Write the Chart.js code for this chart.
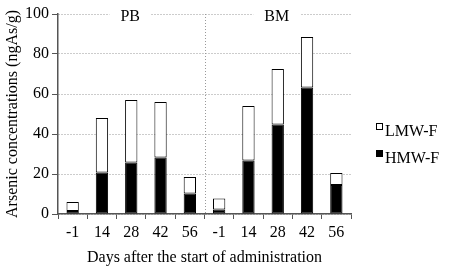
<!DOCTYPE html>
<html>
<head>
<meta charset="utf-8">
<script src="https://cdn.jsdelivr.net/npm/chart.js@4.4.0/dist/chart.umd.min.js"></script>
<style>
  html, body { margin: 0; padding: 0; background: #fff; }
  #wrap { width: 449px; height: 268px; position: relative; }
</style>
</head>
<body>
<div id="wrap"><canvas id="arsenicChart"></canvas></div>
<script>
// Datos
const days = ['-1', '14', '28', '42', '56', '-1', '14', '28', '42', '56'];
const groups = ['PB', 'BM'];
const hmwF = [1.5, 20.7, 25.7, 28.2, 10.2, 2.2, 26.7, 44.7, 63.2, 14.5];
const lmwF = [4.5, 27.3, 31.3, 27.8, 8.3, 5.6, 27.3, 27.8, 25.3, 6.0];
const yTicks = [0, 20, 40, 60, 80, 100];

const serif = "'Liberation Serif', 'DejaVu Serif', serif";
const axisGrey = '#555';

// Etiquetas de grupo, línea divisoria y leyenda
const extras = {
    id: 'extras',
    afterDatasetsDraw(chart) {
        const ctx = chart.ctx;
        const x = chart.scales.x;
        const area = chart.chartArea;

        // línea punteada entre grupos
        const xm = (x.getPixelForValue(4) + x.getPixelForValue(5)) / 2;
        ctx.save();
        ctx.strokeStyle = '#999';
        ctx.lineWidth = 1;
        ctx.setLineDash([1, 2]);
        ctx.beginPath();
        ctx.moveTo(Math.round(xm) + 0.5, area.top);
        ctx.lineTo(Math.round(xm) + 0.5, area.bottom);
        ctx.stroke();
        ctx.restore();

        // PB / BM
        ctx.save();
        ctx.font = '16px ' + serif;
        ctx.textAlign = 'center';
        ctx.textBaseline = 'middle';
        groups.forEach((g, i) => {
            const cx = x.getPixelForValue(i * 5 + 2) - 1;
            const w = ctx.measureText(g).width + 22;
            ctx.fillStyle = '#fff';
            ctx.fillRect(cx - w / 2, area.top - 6, w, 12);
            ctx.fillStyle = '#000';
            ctx.fillText(g, cx, area.top + 3);
        });
        ctx.restore();

        // leyenda
        ctx.save();
        ctx.font = '16px ' + serif;
        ctx.textBaseline = 'alphabetic';
        const items = [chart.data.datasets[1], chart.data.datasets[0]];
        items.forEach((ds, i) => {
            const by = 123 + i * 27;
            ctx.fillStyle = ds.backgroundColor;
            ctx.fillRect(376, by, 7, 7);
            ctx.strokeStyle = '#000';
            ctx.lineWidth = 1;
            ctx.strokeRect(376.5, by + 0.5, 6, 6);
            ctx.fillStyle = '#000';
            ctx.fillText(ds.label, 385, by + 13);
        });
        ctx.restore();
    }
};

const ctx = document.getElementById('arsenicChart').getContext('2d');
const arsenicChart = new Chart(ctx, {
    type: 'bar',
    data: {
        labels: days,
        datasets: [
            {
                label: 'HMW-F',
                data: hmwF,
                backgroundColor: '#000',
                borderColor: '#000',
                borderWidth: 1,
                borderSkipped: false
            },
            {
                label: 'LMW-F',
                data: lmwF,
                backgroundColor: '#fff',
                borderColor: '#000',
                borderWidth: 1,
                borderSkipped: false
            }
        ]
    },
    options: {
        responsive: true,
        maintainAspectRatio: false,
        animation: false,
        layout: { padding: { left: 3, top: 14, right: 98, bottom: 0 } },
        datasets: { bar: { categoryPercentage: 1, barPercentage: 0.42 } },
        plugins: {
            legend: { display: false },
            tooltip: { enabled: false }
        },
        scales: {
            x: {
                stacked: true,
                afterFit(s) { s.height = 54; },
                grid: {
                    offset: true,
                    drawOnChartArea: false,
                    drawTicks: true,
                    tickLength: 5,
                    tickColor: axisGrey
                },
                border: { color: axisGrey, width: 1.5 },
                ticks: {
                    color: '#000',
                    font: { family: serif, size: 16 },
                    padding: 4,
                    maxRotation: 0,
                    autoSkip: false
                },
                title: {
                    display: true,
                    text: 'Days after the start of administration',
                    color: '#000',
                    font: { family: serif, size: 16 },
                    padding: { top: 2, bottom: 1 }
                }
            },
            y: {
                stacked: true,
                min: 0,
                max: 100,
                afterFit(s) { s.width = 55; },
                afterBuildTicks(s) { s.ticks = yTicks.map(v => ({ value: v })); },
                grid: {
                    color: '#999',
                    lineWidth: 1,
                    tickLength: 6,
                    tickColor: axisGrey,
                    tickBorderDash: []
                },
                border: { color: axisGrey, width: 1.5, dash: [1, 2] },
                ticks: {
                    color: '#000',
                    font: { family: serif, size: 16 },
                    padding: 3
                },
                title: {
                    display: true,
                    text: 'Arsenic concentrations (ngAs/g)',
                    color: '#000',
                    font: { family: serif, size: 16 },
                    padding: { top: 0, bottom: 0 }
                }
            }
        }
    },
    plugins: [extras]
});
</script>
</body>
</html>
